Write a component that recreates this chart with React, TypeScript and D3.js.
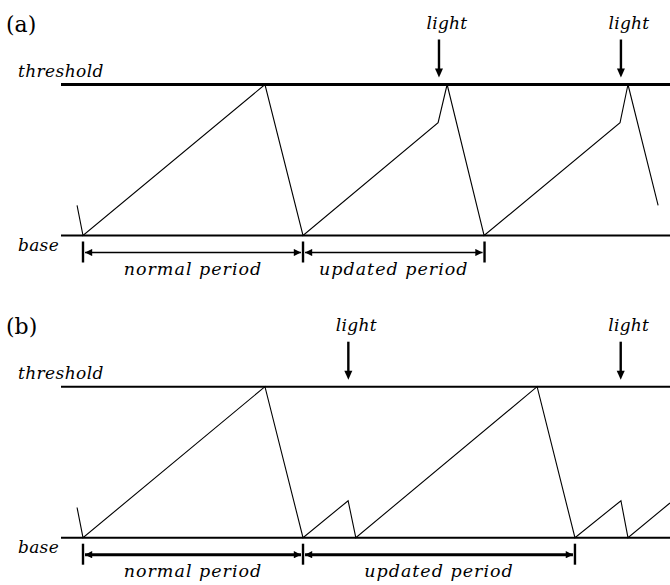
import * as d3 from "d3";

// time axis in "ticks", level axis: 0 = base, 1 = threshold
const panelNames = ["(a)", "(b)"];

const waveA_t = [-0.27, 0, 8.27, 10, 16.14, 16.55, 18.23, 24.41, 24.77, 26.14];
const waveA_v = [0.2, 0, 1, 0, 0.747, 1, 0, 0.747, 1, 0.2];
const lightA = [16.18, 24.45];
const periodA = [0, 10, 18.25];

const waveB_t = [-0.27, 0, 8.27, 10, 12.05, 12.4, 20.64, 22.36, 24.45, 24.77, 26.68];
const waveB_v = [0.2, 0, 1, 0, 0.245, 0, 1, 0, 0.245, 0, 0.23];
const lightB = [12.06, 24.44];
const periodB = [0, 10, 22.36];

const periodLabels = ["normal period", "updated period"];

const W = 670;
const H = 585;
const FONT = "'DejaVu Serif', serif";

const x = d3.scaleLinear().domain([-1, 26.68]).range([61, 670]);

type PanelProps = {
  name: string;
  top: number;
  ts: number[];
  vs: number[];
  lights: number[];
  periods: number[];
  thresholdWidth: number;
  dimWidth: number;
};

function Panel({ name, top, ts, vs, lights, periods, thresholdWidth, dimWidth }: PanelProps) {
  const y = d3.scaleLinear().domain([0, 1]).range([top + 151, top]);
  const pts: [number, number][] = ts.map((t, i) => [t, vs[i]]);
  const line = d3
    .line<[number, number]>()
    .x((d) => x(d[0]))
    .y((d) => y(d[1]));
  const baseY = y(0);
  const thrY = y(1);
  const dimY = baseY + 17;
  const id = name.replace(/\W/g, "");

  return (
    <g>
      <defs>
        <marker id={`dim${id}`} viewBox="0 0 10 10" refX="10" refY="5" markerWidth={dimWidth > 2 ? 3.4 : 6.5} markerHeight={dimWidth > 2 ? 2.4 : 4.5} orient="auto-start-reverse" markerUnits="strokeWidth">
          <path d="M0,0L10,5L0,10z" fill="#000" />
        </marker>
      </defs>
      <text x={6} y={top - 53} fontFamily={FONT} fontSize={22}>{name}</text>
      <text x={18} y={thrY - 8} fontFamily={FONT} fontStyle="italic" fontSize={17} letterSpacing={0.4}>threshold</text>
      <text x={18} y={baseY + 15} fontFamily={FONT} fontStyle="italic" fontSize={17} letterSpacing={0.3}>base</text>

      <line x1={x.range()[0]} x2={W} y1={thrY} y2={thrY} stroke="#000" strokeWidth={thresholdWidth} />
      <line x1={x.range()[0]} x2={W} y1={baseY} y2={baseY} stroke="#000" strokeWidth={2} />

      <path d={line(pts) ?? ""} fill="none" stroke="#000" strokeWidth={1.1} strokeLinejoin="miter" />

      {lights.map((t, i) => (
        <g key={i}>
          <text x={x(t) + 8} y={thrY - 56} textAnchor="middle" fontFamily={FONT} fontStyle="italic" fontSize={17} letterSpacing={0.3}>light</text>
          <line x1={x(t)} x2={x(t)} y1={thrY - 45} y2={thrY - 14} stroke="#000" strokeWidth={2.4} />
          <path d={`M${x(t) - 4},${thrY - 16}L${x(t) + 4},${thrY - 16}L${x(t)},${thrY - 7}z`} fill="#000" />
        </g>
      ))}

      {periods.map((t, i) => (
        <line key={i} x1={x(t)} x2={x(t)} y1={dimY - 11} y2={dimY + 10} stroke="#000" strokeWidth={2.4} />
      ))}
      {periods.slice(1).map((t, i) => {
        const a = x(periods[i]) + 2;
        const b = x(t) - 2;
        return (
          <g key={i}>
            <line x1={a} x2={b} y1={dimY} y2={dimY} stroke="#000" strokeWidth={dimWidth} markerStart={`url(#dim${id})`} markerEnd={`url(#dim${id})`} />
            <text x={(x(periods[i]) + x(t)) / 2} y={dimY + 22} textAnchor="middle" fontFamily={FONT} fontStyle="italic" fontSize={17.5} letterSpacing={1}>{periodLabels[i]}</text>
          </g>
        );
      })}
    </g>
  );
}

export default function App() {
  return (
    <svg width={W} height={H} style={{ position: "absolute", left: 0, top: 0, background: "#fff" }}>
      <Panel name={panelNames[0]} top={84.5} ts={waveA_t} vs={waveA_v} lights={lightA} periods={periodA} thresholdWidth={3} dimWidth={1.6} />
      <Panel name={panelNames[1]} top={386.7} ts={waveB_t} vs={waveB_v} lights={lightB} periods={periodB} thresholdWidth={2} dimWidth={3} />
    </svg>
  );
}
